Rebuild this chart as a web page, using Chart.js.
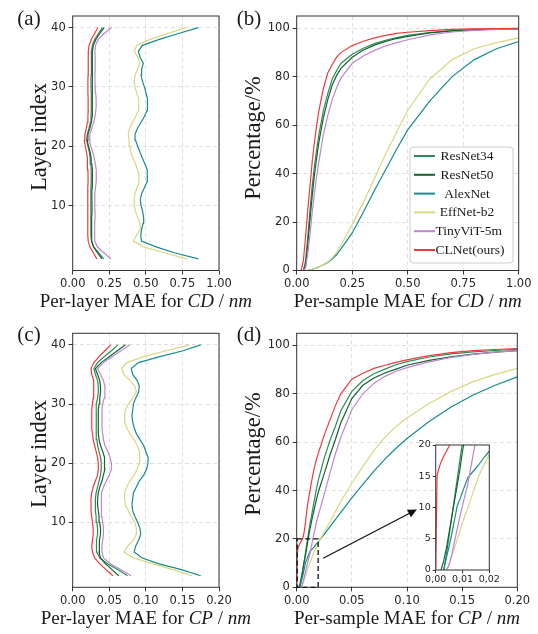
<!DOCTYPE html>
<html><head><meta charset="utf-8">
<script src="https://cdn.jsdelivr.net/npm/chart.js@4.4.0/dist/chart.umd.min.js"></script>
<style>
html,body{margin:0;padding:0;background:#fff;}
#wrap{position:relative;width:538px;height:634px;overflow:hidden;}
canvas{position:absolute;left:0;top:0;}
</style></head><body>
<div id="wrap">
<canvas id="ca" width="538" height="634"></canvas>
<canvas id="cb" width="538" height="634"></canvas>
<canvas id="cc" width="538" height="634"></canvas>
<canvas id="cd" width="538" height="634"></canvas>
<canvas id="ci" width="538" height="634"></canvas>
</div>
<script>
// ---------------- DATA ----------------
const models = ['ResNet34','ResNet50','AlexNet','EffNet-b2','TinyViT-5m','CLNet(ours)'];
const layers = [1,2,3,4,5,6,7,8,9,10,11,12,13,14,15,16,17,18,19,20,21,22,23,24,25,26,27,28,29,30,31,32,33,34,35,36,37,38,39,40];

// (a) per-layer MAE for CD (index 0 = layer 1)
const cdResNet34 = [0.212,0.178,0.145,0.128,0.124,0.123,0.123,0.124,0.125,0.125,0.124,0.124,0.125,0.127,0.127,0.126,0.124,0.120,0.114,0.104,0.095,0.099,0.111,0.120,0.125,0.127,0.128,0.127,0.126,0.125,0.125,0.126,0.127,0.128,0.128,0.129,0.134,0.150,0.176,0.203];
const cdResNet50 = [0.200,0.170,0.142,0.130,0.128,0.129,0.130,0.131,0.132,0.132,0.131,0.131,0.132,0.134,0.135,0.134,0.131,0.126,0.119,0.108,0.099,0.104,0.117,0.127,0.132,0.135,0.136,0.135,0.133,0.132,0.132,0.133,0.134,0.135,0.135,0.136,0.141,0.158,0.185,0.215];
const cdAlexNet  = [0.859,0.700,0.575,0.470,0.465,0.471,0.481,0.485,0.478,0.467,0.462,0.471,0.490,0.508,0.512,0.508,0.494,0.476,0.460,0.444,0.430,0.426,0.442,0.467,0.490,0.508,0.512,0.510,0.501,0.490,0.476,0.467,0.471,0.483,0.460,0.449,0.476,0.592,0.724,0.859];
const cdEffNet   = [0.779,0.631,0.490,0.415,0.437,0.462,0.460,0.444,0.430,0.421,0.419,0.426,0.440,0.453,0.453,0.444,0.430,0.412,0.398,0.389,0.385,0.380,0.389,0.408,0.430,0.449,0.453,0.449,0.437,0.426,0.421,0.426,0.444,0.458,0.444,0.421,0.437,0.528,0.649,0.774];
const cdTinyViT  = [0.262,0.215,0.170,0.150,0.148,0.150,0.152,0.153,0.152,0.151,0.150,0.152,0.156,0.160,0.162,0.160,0.155,0.147,0.137,0.124,0.114,0.117,0.130,0.143,0.152,0.158,0.161,0.160,0.157,0.154,0.152,0.152,0.153,0.154,0.153,0.152,0.156,0.175,0.215,0.265];
const cdCLNet    = [0.165,0.142,0.118,0.106,0.103,0.102,0.102,0.103,0.104,0.104,0.103,0.103,0.104,0.105,0.105,0.104,0.102,0.099,0.094,0.086,0.079,0.083,0.093,0.100,0.104,0.106,0.106,0.105,0.104,0.104,0.104,0.105,0.106,0.106,0.106,0.107,0.112,0.127,0.150,0.172];

// (c) per-layer MAE for CP
const cpResNet34 = [0.075,0.062,0.048,0.037,0.033,0.032,0.033,0.034,0.034,0.033,0.032,0.031,0.031,0.031,0.032,0.034,0.036,0.038,0.039,0.039,0.038,0.036,0.034,0.033,0.032,0.032,0.032,0.032,0.032,0.033,0.034,0.035,0.035,0.034,0.031,0.029,0.034,0.043,0.053,0.062];
const cpResNet50 = [0.063,0.054,0.045,0.038,0.036,0.036,0.037,0.038,0.038,0.037,0.036,0.035,0.034,0.034,0.035,0.037,0.040,0.042,0.044,0.044,0.043,0.041,0.038,0.036,0.035,0.035,0.035,0.035,0.035,0.036,0.037,0.038,0.038,0.037,0.034,0.031,0.039,0.050,0.061,0.072];
const cpAlexNet  = [0.175,0.150,0.118,0.095,0.084,0.086,0.090,0.093,0.092,0.089,0.085,0.082,0.081,0.082,0.083,0.087,0.091,0.097,0.101,0.103,0.103,0.100,0.097,0.092,0.087,0.084,0.082,0.081,0.082,0.083,0.086,0.090,0.091,0.088,0.082,0.080,0.090,0.119,0.151,0.175];
const cpEffNet   = [0.163,0.138,0.110,0.083,0.070,0.075,0.083,0.087,0.087,0.085,0.080,0.076,0.072,0.071,0.071,0.074,0.078,0.084,0.088,0.091,0.092,0.091,0.088,0.084,0.078,0.074,0.071,0.071,0.072,0.076,0.082,0.087,0.085,0.078,0.070,0.067,0.074,0.097,0.128,0.160];
const cpTinyViT  = [0.080,0.066,0.052,0.042,0.040,0.040,0.041,0.042,0.042,0.041,0.040,0.039,0.039,0.039,0.040,0.042,0.046,0.050,0.053,0.053,0.051,0.048,0.044,0.042,0.041,0.040,0.040,0.040,0.040,0.041,0.043,0.044,0.044,0.042,0.038,0.034,0.042,0.054,0.066,0.078];
const cpCLNet    = [0.055,0.046,0.037,0.030,0.027,0.026,0.027,0.028,0.028,0.027,0.026,0.025,0.025,0.025,0.026,0.028,0.031,0.034,0.035,0.035,0.034,0.032,0.030,0.028,0.027,0.026,0.026,0.026,0.026,0.027,0.028,0.029,0.029,0.028,0.026,0.025,0.029,0.036,0.044,0.052];

// (b) cumulative percentage vs per-sample MAE for CD
const maeCD = [0,0.02,0.03,0.04,0.05,0.06,0.07,0.08,0.09,0.10,0.12,0.14,0.16,0.18,0.20,0.25,0.30,0.35,0.40,0.45,0.50,0.60,0.70,0.80,0.90,1.00];
const pctCDResNet34 = [null,null,0,4,14,25,35,43,50,56,66,73,79,82.5,85.5,89.2,91.7,93.6,95,96.1,97,98.2,99,99.4,99.6,99.7];
const pctCDResNet50 = [null,null,0,2,11,21,31,39.5,46.5,53,63,70.5,76.5,80.5,83.5,88,91,93,94.5,95.7,96.6,98,98.9,99.3,99.6,99.7];
const pctCDAlexNet  = [null,0,0,0,0.1,0.3,0.5,0.8,1.1,1.5,2.4,3.3,4.7,6.6,9,15.5,24,33,41.5,50,58,70,80,87,91.5,94.5];
const pctCDEffNet   = [null,0,0,0,0.1,0.3,0.5,0.8,1.1,1.5,2.5,3.5,5.2,7.6,10.5,19,28,38,48,57,66,79,87,91.5,94,96];
const pctCDTinyViT  = [null,null,0,1,7,15,24,32,39,45,56,64,70.5,75.5,79.5,85.5,88.5,90.8,92.6,94,95.2,97.2,98.4,99.1,99.5,99.7];
const pctCDCLNet    = [null,0,4,14,25,35,45,53,60,66,75,81.5,85,88,90,92.8,94.6,96,97,97.8,98.3,99,99.5,99.7,99.8,99.9];

// (d) cumulative percentage vs per-sample MAE for CP
const maeCP = [0,0.0005,0.001,0.002,0.003,0.004,0.005,0.006,0.007,0.008,0.009,0.010,0.012,0.014,0.016,0.018,0.020,0.025,0.03,0.035,0.04,0.05,0.06,0.07,0.08,0.09,0.10,0.12,0.14,0.16,0.18,0.20];
const pctCPResNet34 = [null,null,null,null,0,2.5,5.5,8.5,11.5,14.5,17.5,20.5,26,31,36,41,45,53.5,60.5,66.5,73,81,85.5,88.3,90.2,92,93.3,95.2,96.5,97.3,97.9,98.4];
const pctCPResNet50 = [null,null,null,0,1.5,3.5,6,8.5,11,13.5,16,19,24,28.5,32.5,36.5,40,47,54.5,61,68,78,83.5,86.5,88.6,90.2,91.8,93.8,95.3,96.4,97.2,97.8];
const pctCPAlexNet  = [null,null,null,null,0,2,3.8,5.8,8,10.2,11.3,12.5,14.8,15.8,16.8,18,19,22,25,28,31,37,42.5,48,53,57.5,61.5,68.5,74.5,79.5,83.5,87];
const pctCPEffNet   = [null,null,null,null,null,0,1,2.2,3.5,4.8,6.2,7.6,10,12.5,15,16.8,18.5,23,27,31.2,35.5,43,50,56.5,62,66.5,70,76,81,85,88,90.5];
const pctCPTinyViT  = [null,null,null,null,null,0,0.8,2.5,4.5,6.5,8.5,10.3,13.8,18.5,23,27,30.5,38.5,47,55,62,73.5,80,84.3,87.2,89.3,90.8,93.2,95,96.3,97.2,97.8];
const pctCPCLNet    = [0,15,16,17.3,18.2,19,19.8,21,23.5,27,31,34.5,40,45,49.5,53,56,63,69,75,80,86,88.5,90.5,91.8,93,94,95.8,97,97.8,98.3,98.7];

// tick values
const layerTicks = [10,20,30,40];
const cdTicks = [0,0.25,0.5,0.75,1.0];
const cpTicks = [0,0.05,0.10,0.15,0.20];
const pctTicks = [0,20,40,60,80,100];
const insetXTicks = [0,0.01,0.02];
const insetYTicks = [0,5,10,15,20];

// zoom box and arrow (data coords of panel d)
const zoomBox = {x0:0, x1:0.019, y0:0, y1:20};
const arrowFrom = [0.024, 12];
const arrowTo = [0.109, 32.2];

// ---------------- STYLE ----------------
const colors = ['#2e8b57','#17622e','#168c8c','#d8d880','#c084d2','#f03a3a'];
const orders = [5,4,3,2,1,0];
const W = 538, H = 634;
const SERIF = '"Liberation Serif","Times New Roman",serif';
const SANS = '"DejaVu Sans",sans-serif';

function profileSets(arrs){
  return arrs.map((a,k)=>({label:models[k], data:a.map((v,i)=>({x:v,y:layers[i]})),
    borderColor:colors[k], backgroundColor:colors[k], borderWidth:1.2, pointRadius:0, showLine:true, tension:0, order:orders[k]}));
}
function cdfSets(xs, arrs){
  return arrs.map((a,k)=>({label:models[k], data:a.map((v,i)=>({x:xs[i],y:v})),
    borderColor:colors[k], backgroundColor:colors[k], borderWidth:1.2, pointRadius:0, showLine:true, tension:0, order:orders[k], spanGaps:false}));
}
function axis(min,max,ticks,fmt,size,isX,fixed,grid,tl,pad){
  return {type:'linear', min, max,
    afterBuildTicks: s=>{ s.ticks = ticks.map(v=>({value:v})); },
    afterFit: s=>{ if(isX) s.height = fixed; else s.width = fixed; },
    ticks:{callback:fmt, font:{family:SANS,size}, color:'#262626', padding:pad, maxRotation:0, autoSkip:false},
    grid:{display:true, drawOnChartArea:grid, color:'#dcdcdc', lineWidth:0.9, tickColor:'#333', tickLength:tl, tickWidth:1},
    border:{display:false, dash:[4,3]}
  };
}
function richText(ctx, segs, cx, cy, size, rot){
  ctx.save(); ctx.translate(cx,cy); if(rot) ctx.rotate(-Math.PI/2);
  ctx.textBaseline='middle'; ctx.textAlign='left'; ctx.fillStyle='#1a1a1a';
  const ws=[]; let tot=0;
  segs.forEach(s=>{ctx.font=(s[1]?'italic ':'')+size+'px '+SERIF; const w=ctx.measureText(s[0]).width; ws.push(w); tot+=w;});
  let x=-tot/2;
  segs.forEach((s,k)=>{ctx.font=(s[1]?'italic ':'')+size+'px '+SERIF; ctx.fillText(s[0],x,0); x+=ws[k];});
  ctx.restore();
}
function decoPlugin(cfg){
  return {id:'deco'+cfg.label, 
    beforeDraw(chart){
      if(cfg.whiteBg){const a=chart.chartArea; const c=chart.ctx; c.save(); c.fillStyle='#fff'; c.fillRect(a.left,a.top,a.right-a.left,a.bottom-a.top); c.restore();}
    },
    afterDraw(chart){
      const c=chart.ctx, a=chart.chartArea;
      c.save(); c.strokeStyle='#333'; c.lineWidth=1; c.setLineDash([]);
      c.strokeRect(a.left,a.top,a.right-a.left,a.bottom-a.top); c.restore();
      if(cfg.panel) richText(c,[[cfg.panel,false]],cfg.panelPos[0],cfg.panelPos[1],21,false);
      if(cfg.yTitle) richText(c,[[cfg.yTitle,false]],cfg.yTitlePos[0],cfg.yTitlePos[1],22.5,true);
      if(cfg.xTitle) richText(c,cfg.xTitle,(a.left+a.right)/2,cfg.xTitleY,19,false);
      if(cfg.extra) cfg.extra(chart);
    }};
}
function makeChart(id, area, datasets, xAx, yAx, cfg, yW, xH){
  return new Chart(document.getElementById(id),{
    type:'scatter', data:{datasets},
    options:{responsive:false, animation:false, devicePixelRatio:1, events:[],
      layout:{padding:{left:area.l-yW, top:area.t, right:W-area.r, bottom:H-area.b-xH}},
      plugins:{legend:{display:false}, tooltip:{enabled:false}},
      scales:{x:xAx, y:yAx}},
    plugins:[decoPlugin(cfg)]
  });
}
const f2 = v=>Number(v).toFixed(2);
const f0 = v=>String(v);

// legend for panel b
function drawLegend(chart){
  const c=chart.ctx;
  const bx=410, by=147, bw=103, bh=116;
  c.save();
  c.beginPath(); c.roundRect(bx,by,bw,bh,3); c.fillStyle='rgba(255,255,255,0.85)'; c.fill();
  c.strokeStyle='#cfcfcf'; c.lineWidth=1; c.stroke();
  c.font='13.5px '+SERIF; c.textBaseline='middle'; c.textAlign='left'; c.fillStyle='#1a1a1a';
  models.forEach((m,k)=>{
    const y=by+9+k*18.8;
    c.strokeStyle=colors[k]; c.lineWidth=2; c.beginPath(); c.moveTo(414,y); c.lineTo(435,y); c.stroke();
    const w=c.measureText(m).width; const x=Math.max(435.5, 467-w/2);
    c.fillText(m,x,y+0.5);
  });
  c.restore();
}
function drawZoom(chart){
  const c=chart.ctx, xs=chart.scales.x, ys=chart.scales.y;
  const x0=xs.getPixelForValue(zoomBox.x0), x1=xs.getPixelForValue(zoomBox.x1);
  const y0=ys.getPixelForValue(zoomBox.y0), y1=ys.getPixelForValue(zoomBox.y1);
  c.save(); c.strokeStyle='#111'; c.lineWidth=1.3; c.setLineDash([5,3]);
  c.strokeRect(x0+0.5,y1,x1-x0,y0-y1);
  c.setLineDash([]);
  const ax=xs.getPixelForValue(arrowFrom[0]), ay=ys.getPixelForValue(arrowFrom[1]);
  const bx=xs.getPixelForValue(arrowTo[0]), by=ys.getPixelForValue(arrowTo[1]);
  const ang=Math.atan2(by-ay,bx-ax), L=9, hw=4.2;
  c.lineWidth=1.2; c.beginPath(); c.moveTo(ax,ay); c.lineTo(bx-L*Math.cos(ang)*0.8,by-L*Math.sin(ang)*0.8); c.stroke();
  c.fillStyle='#111'; c.beginPath(); c.moveTo(bx,by);
  c.lineTo(bx-L*Math.cos(ang)+hw*Math.sin(ang), by-L*Math.sin(ang)-hw*Math.cos(ang));
  c.lineTo(bx-L*Math.cos(ang)-hw*Math.sin(ang), by-L*Math.sin(ang)+hw*Math.cos(ang));
  c.closePath(); c.fill();
  c.restore();
}

// ---------------- CHARTS ----------------
const TS = 11.5;
makeChart('ca',{l:72.7,r:219,t:16,b:270.5},
  profileSets([cdResNet34,cdResNet50,cdAlexNet,cdEffNet,cdTinyViT,cdCLNet]),
  axis(0,1,cdTicks,f2,TS,true,30,true,4,3), axis(-0.95,41.95,layerTicks,f0,TS,false,40,true,4,3),
  {label:'a', panel:'(a)', panelPos:[29,19], yTitle:'Layer index', yTitlePos:[40,137],
   xTitle:[['Per-layer MAE for ',false],['CD',true],[' / ',false],['nm',true]], xTitleY:302}, 40, 30);

makeChart('cb',{l:296.7,r:518.7,t:16,b:270.5},
  cdfSets(maeCD,[pctCDResNet34,pctCDResNet50,pctCDAlexNet,pctCDEffNet,pctCDTinyViT,pctCDCLNet]),
  axis(0,1,cdTicks,f2,TS,true,30,true,4,3), axis(0,105,pctTicks,f0,TS,false,40,true,4,3),
  {label:'b', panel:'(b)', panelPos:[249,19], yTitle:'Percentage/%', yTitlePos:[254,138],
   xTitle:[['Per-sample MAE for ',false],['CD',true],[' / ',false],['nm',true]], xTitleY:302, extra:drawLegend}, 40, 30);

makeChart('cc',{l:72.7,r:219,t:333.3,b:587.3},
  profileSets([cpResNet34,cpResNet50,cpAlexNet,cpEffNet,cpTinyViT,cpCLNet]),
  axis(0,0.2,cpTicks,f2,TS,true,30,true,4,3), axis(-0.95,41.95,layerTicks,f0,TS,false,40,true,4,3),
  {label:'c', panel:'(c)', panelPos:[29,335], yTitle:'Layer index', yTitlePos:[40,454],
   xTitle:[['Per-layer MAE for ',false],['CP',true],[' / ',false],['nm',true]], xTitleY:619}, 40, 30);

makeChart('cd',{l:296.7,r:517.3,t:333.3,b:587.3},
  cdfSets(maeCP,[pctCPResNet34,pctCPResNet50,pctCPAlexNet,pctCPEffNet,pctCPTinyViT,pctCPCLNet]),
  axis(0,0.2,cpTicks,f2,TS,true,30,true,4,3), axis(0,105,pctTicks,f0,TS,false,40,true,4,3),
  {label:'d', panel:'(d)', panelPos:[249,335], yTitle:'Percentage/%', yTitlePos:[254,454],
   xTitle:[['Per-sample MAE for ',false],['CP',true],[' / ',false],['nm',true]], xTitleY:619, extra:drawZoom}, 40, 30);

const fc = v=>Number(v).toFixed(2).replace('.',',');
makeChart('ci',{l:435.7,r:489.3,t:445,b:570},
  cdfSets(maeCP,[pctCPResNet34,pctCPResNet50,pctCPAlexNet,pctCPEffNet,pctCPTinyViT,pctCPCLNet]),
  axis(0,0.02,insetXTicks,fc,9.5,true,20,false,3,1), axis(0,20,insetYTicks,f0,9.5,false,20,false,3,2),
  {label:'i', whiteBg:true}, 20, 20);
</script>
</body></html>
